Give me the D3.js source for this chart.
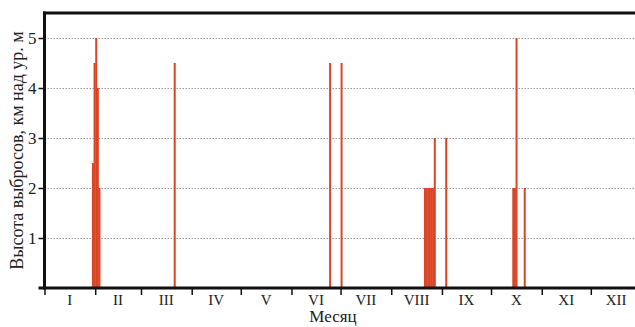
<!DOCTYPE html>
<html lang="ru">
<head>
<meta charset="UTF-8">
<title>Chart</title>
<style>
body { margin: 0; background: #fff; }
#chart { width: 635px; height: 327px; }
.tick text { font-family: 'Liberation Serif', 'DejaVu Serif', serif; fill: #222; }
</style>
</head>
<body>
<div id="chart"></div>
<script src="https://cdnjs.cloudflare.com/ajax/libs/d3/7.8.5/d3.min.js"></script>
<script>

// day of year (0 = 1 Jan) and height of emission, km
var eventDays    = [29, 30, 31, 32, 33, 79, 174, 181, 232, 233, 234, 235, 236, 237, 238, 245, 286, 287, 288, 293];
var eventHeights = [2.5, 4.5, 5, 4, 2, 4.5, 4.5, 4.5, 2, 2, 2, 2, 2, 2, 3, 3, 2, 2, 5, 2];

var monthLabels = ['I', 'II', 'III', 'IV', 'V', 'VI', 'VII', 'VIII', 'IX', 'X', 'XI', 'XII'];
var monthDays   = [31, 28, 31, 30, 31, 30, 31, 31, 30, 31, 30, 31];
var yTicks = [1, 2, 3, 4, 5];

var width = 635, height = 327;
var plotLeft = 44.5, plotTop = 13, plotBottom = 288;

var monthStarts = [0];
monthDays.forEach(function (d, i) { monthStarts.push(monthStarts[i] + d); });

var x = d3.scaleLinear().domain([0, 365]).range([plotLeft, 641.5]);
var y = d3.scaleLinear().domain([0, 5.5]).range([plotBottom, plotTop]);

var svg = d3.select('#chart').append('svg')
  .attr('width', width)
  .attr('height', height);

// grid
svg.append('g')
  .selectAll('line')
  .data(yTicks)
  .enter()
  .append('line')
  .attr('x1', plotLeft)
  .attr('x2', width)
  .attr('y1', function (d) { return Math.round(y(d)) + 0.5; })
  .attr('y2', function (d) { return Math.round(y(d)) + 0.5; })
  .attr('stroke', '#999')
  .attr('stroke-width', 1)
  .attr('stroke-dasharray', '1.5,1.5');

// bars
var data = eventDays.map(function (d, i) { return { day: d, h: eventHeights[i] }; });
svg.append('g')
  .selectAll('rect')
  .data(data)
  .enter()
  .append('rect')
  .attr('x', function (d) { return x(d.day); })
  .attr('width', function (d) { return Math.max(x(d.day + 1) - x(d.day), 2); })
  .attr('y', function (d) { return y(d.h); })
  .attr('height', function (d) { return plotBottom - y(d.h); })
  .attr('fill', '#da4526');

// top frame line
svg.append('line')
  .attr('x1', plotLeft - 1.5).attr('x2', width)
  .attr('y1', plotTop).attr('y2', plotTop)
  .attr('stroke', '#111').attr('stroke-width', 3);

// y axis
var yAxis = svg.append('g')
  .attr('transform', 'translate(' + plotLeft + ',0)')
  .call(d3.axisLeft(y).tickValues(yTicks).tickSize(6).tickPadding(2).tickFormat(d3.format('d')));
yAxis.select('.domain').remove();
yAxis.selectAll('.tick line').attr('stroke', '#111').attr('stroke-width', 1.5);
yAxis.selectAll('.tick text').style('font-size', '17px');
svg.append('line')
  .attr('x1', plotLeft).attr('x2', plotLeft)
  .attr('y1', plotTop - 1.5).attr('y2', plotBottom + 1.5)
  .attr('stroke', '#111').attr('stroke-width', 3);

// x axis: ticks at month boundaries, labels in month centres
var xAxis = svg.append('g')
  .attr('transform', 'translate(0,' + plotBottom + ')')
  .call(d3.axisBottom(x).tickValues(monthStarts.slice(0, 12)).tickSize(7).tickFormat(''));
xAxis.select('.domain').remove();
xAxis.selectAll('.tick line').attr('stroke', '#111').attr('stroke-width', 1.5);
svg.append('line')
  .attr('x1', plotLeft - 6).attr('x2', width)
  .attr('y1', plotBottom).attr('y2', plotBottom)
  .attr('stroke', '#111').attr('stroke-width', 3);

svg.append('g')
  .selectAll('text')
  .data(monthLabels)
  .enter()
  .append('text')
  .attr('x', function (d, i) { return x(monthStarts[i] + monthDays[i] / 2); })
  .attr('y', 305)
  .attr('text-anchor', 'middle')
  .style('font-family', "'Liberation Serif', serif")
  .style('font-size', '15px')
  .attr('fill', '#222')
  .text(function (d) { return d; });

svg.append('text')
  .attr('x', 333)
  .attr('y', 322)
  .attr('text-anchor', 'middle')
  .style('font-family', "'Liberation Serif', serif")
  .style('font-size', '17px')
  .attr('fill', '#222')
  .text('Месяц');

svg.append('text')
  .attr('transform', 'translate(23,' + ((plotTop + plotBottom) / 2) + ') rotate(-90)')
  .attr('text-anchor', 'middle')
  .style('font-family', "'Liberation Serif', serif")
  .style('font-size', '18px')
  .attr('fill', '#222')
  .text('Высота выбросов, км над ур. м');

</script>
</body>
</html>
